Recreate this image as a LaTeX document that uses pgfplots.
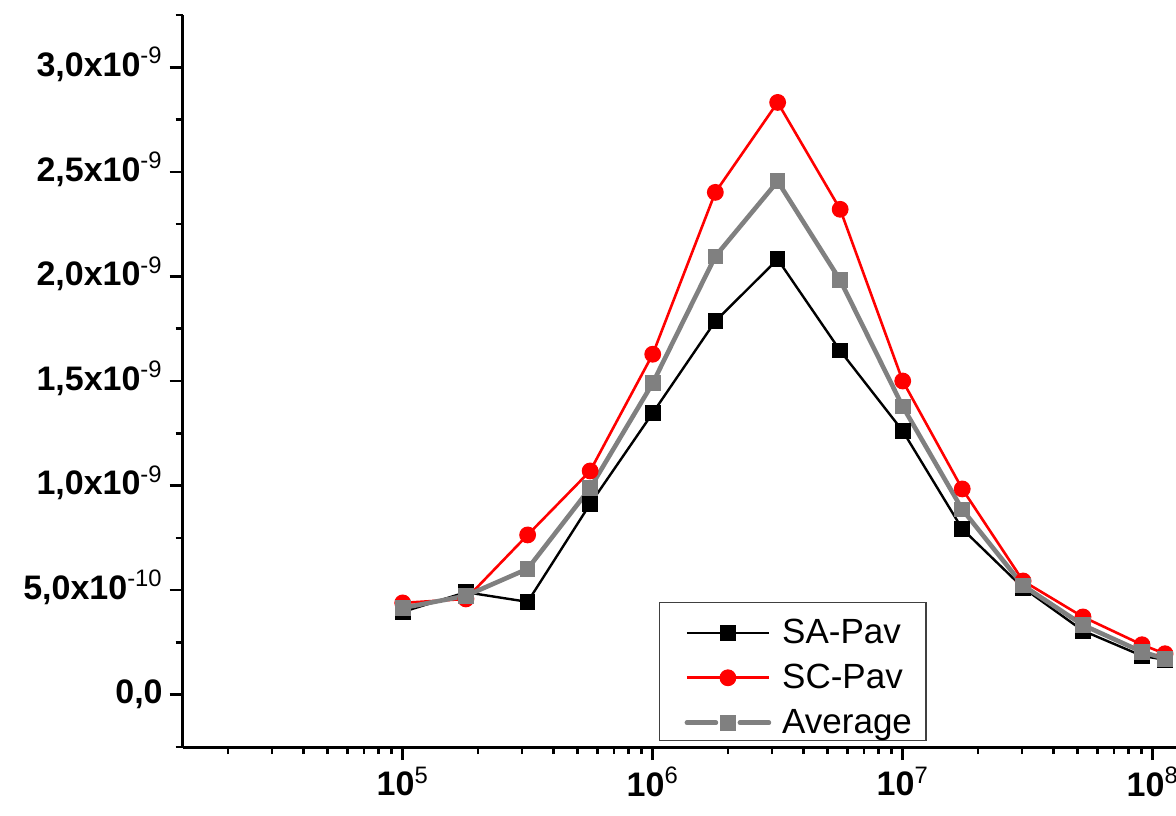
\documentclass[border=0pt]{standalone}
\usepackage{fontspec}
\setmainfont{Liberation Sans}
\usepackage{pgfplots}
\pgfplotsset{compat=1.18}
\definecolor{avggray}{RGB}{128,128,128}
\definecolor{scred}{RGB}{255,0,0}
\begin{document}
\begin{tikzpicture}
\begin{axis}[
  scale only axis, width=516.25pt, height=366pt,
  xmode=log, xmin=13183, xmax=1.778e8,
  ymin=-0.25, ymax=3.25,
  axis x line*=bottom, axis y line*=left,
  axis line style={-, line width=1.5pt, black},
  tick align=outside,
  major tick length=6.5pt, minor tick length=3.5pt,
  every major tick/.append style={line width=1.3pt, black},
  every minor tick/.append style={line width=1.3pt, black},
  xtick={1e5,1e6,1e7,1e8},
  xticklabels={10\textsuperscript{\mdseries 5},10\textsuperscript{\mdseries 6},10\textsuperscript{\mdseries 7},10\textsuperscript{\mdseries 8}},
  minor xtick={2e4,3e4,4e4,5e4,6e4,7e4,8e4,9e4,2e5,3e5,4e5,5e5,6e5,7e5,8e5,9e5,2e6,3e6,4e6,5e6,6e6,7e6,8e6,9e6,2e7,3e7,4e7,5e7,6e7,7e7,8e7,9e7,2e8},
  ytick={0,0.5,1,1.5,2,2.5,3},
  minor ytick={-0.25,0.25,0.75,1.25,1.75,2.25,2.75,3.25},
  yticklabels={{0,0},{5,0x10\smash{\textsuperscript{\mdseries -10}}},{1,0x10\smash{\textsuperscript{\mdseries -9}}},{1,5x10\smash{\textsuperscript{\mdseries -9}}},{2,0x10\smash{\textsuperscript{\mdseries -9}}},{2,5x10\smash{\textsuperscript{\mdseries -9}}},{3,0x10\smash{\textsuperscript{\mdseries -9}}}},
  tick label style={font=\bfseries\fontsize{17}{20}\selectfont},
  legend cell align=left,
  legend style={at={(0.4613,0.198)}, anchor=north west, draw=black!75, line width=0.6pt,
    font=\fontsize{17.5}{20}\selectfont, inner xsep=7pt, inner ysep=0.8pt, row sep=0pt,
    nodes={inner sep=0pt},
    /tikz/every odd column/.append style={column sep=5.5pt},
    /tikz/every even column/.append style={nodes={text height=19.5pt, text depth=3pt}}},
  legend image code/.code={\path (0pt,-3pt); \draw[mark repeat=2,mark phase=2] plot coordinates {(5.5pt,-3pt) (26pt,-3pt) (46.5pt,-3pt)};},
]
\addplot[black, line width=1.2pt, mark=square*, mark size=3.5pt, mark options={line width=0.8pt, solid}]
 coordinates {(1e5,0.396) (1.79e5,0.49) (3.16e5,0.444) (5.62e5,0.912) (1e6,1.347) (1.78e6,1.786) (3.16e6,2.082) (5.62e6,1.645) (1e7,1.261) (1.73e7,0.793) (3.03e7,0.511) (5.26e7,0.306) (9.06e7,0.186) (1.12e8,0.167)};
\addlegendentry{SA-Pav}
\addplot[scred, line width=1.3pt, mark=*, mark size=3.9pt, mark options={line width=0.6pt, solid}]
 coordinates {(1e5,0.439) (1.79e5,0.458) (3.16e5,0.764) (5.62e5,1.07) (1e6,1.628) (1.78e6,2.402) (3.16e6,2.832) (5.62e6,2.321) (1e7,1.50) (1.73e7,0.984) (3.03e7,0.544) (5.26e7,0.372) (9.06e7,0.239) (1.12e8,0.196)};
\addlegendentry{SC-Pav}
\addplot[avggray, line width=2.3pt, mark=square*, mark size=3.6pt, mark options={line width=0.6pt, solid},
  legend image code/.code={\path (0pt,-3pt); \draw[line cap=round] (5.5pt,-3pt)--(20pt,-3pt) (32pt,-3pt)--(46.5pt,-3pt); \draw plot[only marks] coordinates {(26pt,-3pt)};}]
 coordinates {(1e5,0.415) (1.79e5,0.473) (3.16e5,0.602) (5.62e5,0.988) (1e6,1.49) (1.78e6,2.096) (3.16e6,2.455) (5.62e6,1.982) (1e7,1.378) (1.73e7,0.886) (3.03e7,0.522) (5.26e7,0.333) (9.06e7,0.205) (1.12e8,0.172)};
\addlegendentry{Average}
\end{axis}
\pgfresetboundingbox
\path[use as bounding box] (-91.35pt,-34pt) rectangle (496.65pt,373.5pt);
\end{tikzpicture}
\end{document}
